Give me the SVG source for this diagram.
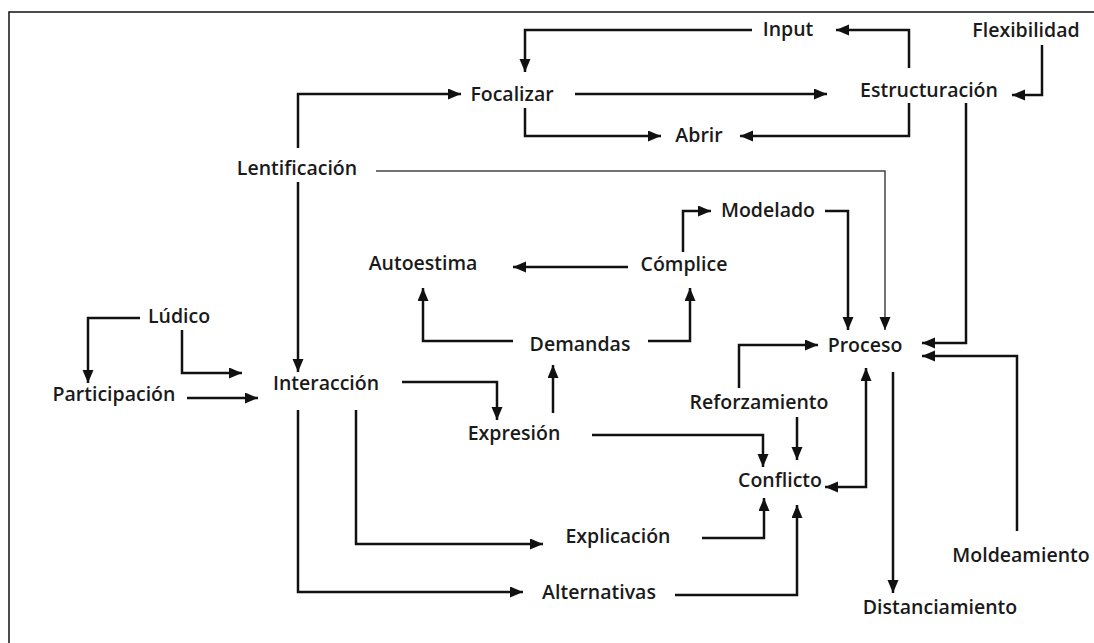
<svg xmlns="http://www.w3.org/2000/svg" width="1094" height="643" viewBox="0 0 1094 643">
<style>
  .lbl { font-family: "Open Sans", "Liberation Sans", sans-serif; font-weight: 600; font-size: 19.5px; fill: #1a1a1a; text-anchor: middle; }
  .c { fill: none; stroke: #111; stroke-width: 2.5; marker-end: url(#ah); }
  .thin { stroke-width: 1.5; stroke: #444; }
  .frame { fill: none; stroke: #111; stroke-width: 1.5; }
</style>
<defs>
  <marker id="ah" markerUnits="userSpaceOnUse" markerWidth="15" markerHeight="13" refX="13" refY="5.5" orient="auto-start-reverse">
    <path d="M0,0 L13,5.5 L0,11 z" fill="#111"/>
  </marker>
</defs>
<rect width="1094" height="643" fill="#fff"/>
<path class="frame" d="M9,643 V12 H1094"/>
<g id="connectors">
  <path class="c" d="M909,68 V30 H836"/>
  <path class="c" d="M752,30 H525 V72"/>
  <path class="c" d="M575,94 H827"/>
  <path class="c" d="M525,108 V136 H661"/>
  <path class="c" d="M909,103 V136 H740"/>
  <path class="c" d="M1042,45 V95 H1012"/>
  <path class="c" d="M966,103 V343 H922"/>
  <path class="c" d="M1017,531 V356 H922"/>
  <path class="c" d="M298,148 V94 H461"/>
  <path class="c" d="M298,182 V372"/>
  <path class="c thin" d="M376,171 H885 V330"/>
  <path class="c" d="M825,211 H848 V330"/>
  <path class="c" d="M683,252 V211 H711"/>
  <path class="c" d="M628,267 H513"/>
  <path class="c" d="M513,341 H423 V288"/>
  <path class="c" d="M648,341 H690 V288"/>
  <path class="c" d="M553,413 V365"/>
  <path class="c" d="M402,382 H497 V420"/>
  <path class="c" d="M140,318 H88 V383"/>
  <path class="c" d="M182,330 V373 H242"/>
  <path class="c" d="M187,398 H258"/>
  <path class="c" d="M298,410 V592 H523"/>
  <path class="c" d="M356,410 V544 H543"/>
  <path class="c" d="M592,435 H763 V467"/>
  <path class="c" d="M797,417 V460"/>
  <path class="c" d="M739,388 V345 H818"/>
  <path class="c" d="M825,487 H866 V368" marker-start="url(#ah)"/>
  <path class="c" d="M702,538 H764 V498"/>
  <path class="c" d="M675,595 H797 V505"/>
  <path class="c" d="M893,372 V593"/>
</g>
<g id="n-input"><text class="lbl" x="788" y="36">Input</text></g>
<g id="n-flexibilidad"><text class="lbl" x="1026" y="37">Flexibilidad</text></g>
<g id="n-focalizar"><text class="lbl" x="512" y="101">Focalizar</text></g>
<g id="n-estructuracion"><text class="lbl" x="929" y="97">Estructuración</text></g>
<g id="n-abrir"><text class="lbl" x="699" y="142">Abrir</text></g>
<g id="n-lentificacion"><text class="lbl" x="297" y="175">Lentificación</text></g>
<g id="n-modelado"><text class="lbl" x="768" y="217">Modelado</text></g>
<g id="n-autoestima"><text class="lbl" x="423" y="270">Autoestima</text></g>
<g id="n-complice"><text class="lbl" x="684" y="271">Cómplice</text></g>
<g id="n-ludico"><text class="lbl" x="179" y="323">Lúdico</text></g>
<g id="n-demandas"><text class="lbl" x="580" y="351">Demandas</text></g>
<g id="n-proceso"><text class="lbl" x="865" y="352">Proceso</text></g>
<g id="n-interaccion"><text class="lbl" x="326" y="390">Interacción</text></g>
<g id="n-participacion"><text class="lbl" x="114" y="401">Participación</text></g>
<g id="n-reforzamiento"><text class="lbl" x="759" y="409">Reforzamiento</text></g>
<g id="n-expresion"><text class="lbl" x="514" y="440">Expresión</text></g>
<g id="n-conflicto"><text class="lbl" x="780" y="487">Conflicto</text></g>
<g id="n-explicacion"><text class="lbl" x="618" y="543">Explicación</text></g>
<g id="n-moldeamiento"><text class="lbl" x="1021" y="562">Moldeamiento</text></g>
<g id="n-alternativas"><text class="lbl" x="599" y="599">Alternativas</text></g>
<g id="n-distanciamiento"><text class="lbl" x="940" y="614">Distanciamiento</text></g>
</svg>
